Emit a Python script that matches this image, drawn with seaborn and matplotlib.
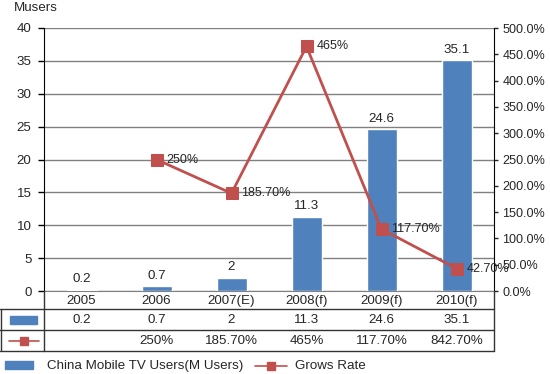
import numpy as np
import pandas as pd
import matplotlib
matplotlib.use("Agg")
import matplotlib.pyplot as plt
import seaborn as sns
from matplotlib.lines import Line2D
from matplotlib.patches import Rectangle

years = ["2005", "2006", "2007(E)", "2008(f)", "2009(f)", "2010(f)"]
users = [0.2, 0.7, 2, 11.3, 24.6, 35.1]
rate = [np.nan, 250, 185.7, 465, 117.7, 42.7]
rate_labels = ["", "250%", "185.70%", "465%", "117.70%", "42.70%"]
table_rate = ["", "250%", "185.70%", "465%", "117.70%", "842.70%"]
user_labels = ["0.2", "0.7", "2", "11.3", "24.6", "35.1"]

blue = "#4F81BD"
red = "#C0504D"
fs = 9.6

sns.set_style("white")
plt.rcParams["font.family"] = ["Liberation Sans", "DejaVu Sans"]
plt.rcParams["font.size"] = fs

df = pd.DataFrame({"year": years, "users": users, "rate": rate})

fig = plt.figure(figsize=(5.5, 3.74), dpi=100)
W, H = 550, 374
ax = fig.add_axes([44 / W, 1 - 291 / H, 450 / W, 263 / H])

sns.barplot(data=df, x="year", y="users", color=blue, width=0.4, ax=ax,
            saturation=1, zorder=3)
ax.set_ylim(0, 40)
ax.set_yticks(range(0, 41, 5))
ax.set_xlim(-0.5, 5.5)
ax.grid(axis="y", color="#808080", linewidth=1, zorder=0)
ax.set_xlabel("")
ax.set_ylabel("")
ax.tick_params(axis="y", length=4, width=1, color="black", left=True, pad=5,
               labelsize=fs)
ax.tick_params(axis="x", length=0, pad=3, labelsize=fs)
for s in ["top", "right"]:
    ax.spines[s].set_visible(False)
ax.spines["left"].set_color("black")
ax.spines["bottom"].set_color("#808080")
ax.spines["bottom"].set_zorder(1)
for i, v in enumerate(users):
    ax.text(i, v + 0.7, user_labels[i], ha="center", va="bottom", fontsize=fs)

ax2 = ax.twinx()
sns.lineplot(x=np.arange(6), y=df["rate"], color=red, marker="s",
             markersize=8, markeredgecolor=red, linewidth=2, ax=ax2)
ax2.set_ylim(0, 500)
ax2.set_yticks(range(0, 501, 50))
ax2.set_yticklabels([f"{v:.1f}%" for v in range(0, 501, 50)])
ax2.set_ylabel("")
ax2.tick_params(axis="y", length=3, width=1, right=True, pad=3, labelsize=9.1)
for s in ["top", "left", "bottom"]:
    ax2.spines[s].set_visible(False)
ax2.spines["right"].set_color("black")
for i, v in enumerate(rate):
    if not np.isnan(v):
        ax2.text(i + 0.13, v, rate_labels[i], ha="left", va="center",
                 fontsize=9)

# data table below the plot
def fx(px):
    return px / W

def fy(py):
    return 1 - py / H

lc = "#333333"
for py in [309, 330, 351]:
    fig.add_artist(Line2D([fx(0), fx(494)], [fy(py), fy(py)], color=lc, lw=1))
fig.add_artist(Line2D([fx(0.5), fx(0.5)], [fy(309), fy(351)], color=lc, lw=1))
fig.add_artist(Line2D([fx(44), fx(44)], [fy(291), fy(351)], color=lc, lw=1))
fig.add_artist(Line2D([fx(494), fx(494)], [fy(291), fy(351)], color=lc, lw=1))

for i in range(6):
    cx = fx(44 + 75 * (i + 0.5))
    fig.text(cx, fy(320), user_labels[i], ha="center", va="center", fontsize=fs)
    fig.text(cx, fy(341), table_rate[i], ha="center", va="center", fontsize=fs)

fig.add_artist(Rectangle((fx(10), fy(324)), fx(27), 8 / H, color=blue))
fig.add_artist(Line2D([fx(9), fx(39)], [fy(341), fy(341)], color=red, lw=1.2))
fig.add_artist(Line2D([fx(24)], [fy(341)], color=red, marker="s", markersize=6))

# legend at the bottom
fig.add_artist(Rectangle((fx(5), fy(369)), fx(28), 8 / H, color=blue))
fig.text(fx(47), fy(366), "China Mobile TV Users(M Users)", ha="left",
         va="center", fontsize=fs)
fig.add_artist(Line2D([fx(255), fx(287)], [fy(366), fy(366)], color=red, lw=1.2))
fig.add_artist(Line2D([fx(271)], [fy(366)], color=red, marker="s", markersize=6))
fig.text(fx(295), fy(366), "Grows Rate", ha="left", va="center", fontsize=fs)

fig.text(fx(14), fy(8), "Musers", ha="left", va="center", fontsize=fs)

fig.savefig("out.png", dpi=100)
